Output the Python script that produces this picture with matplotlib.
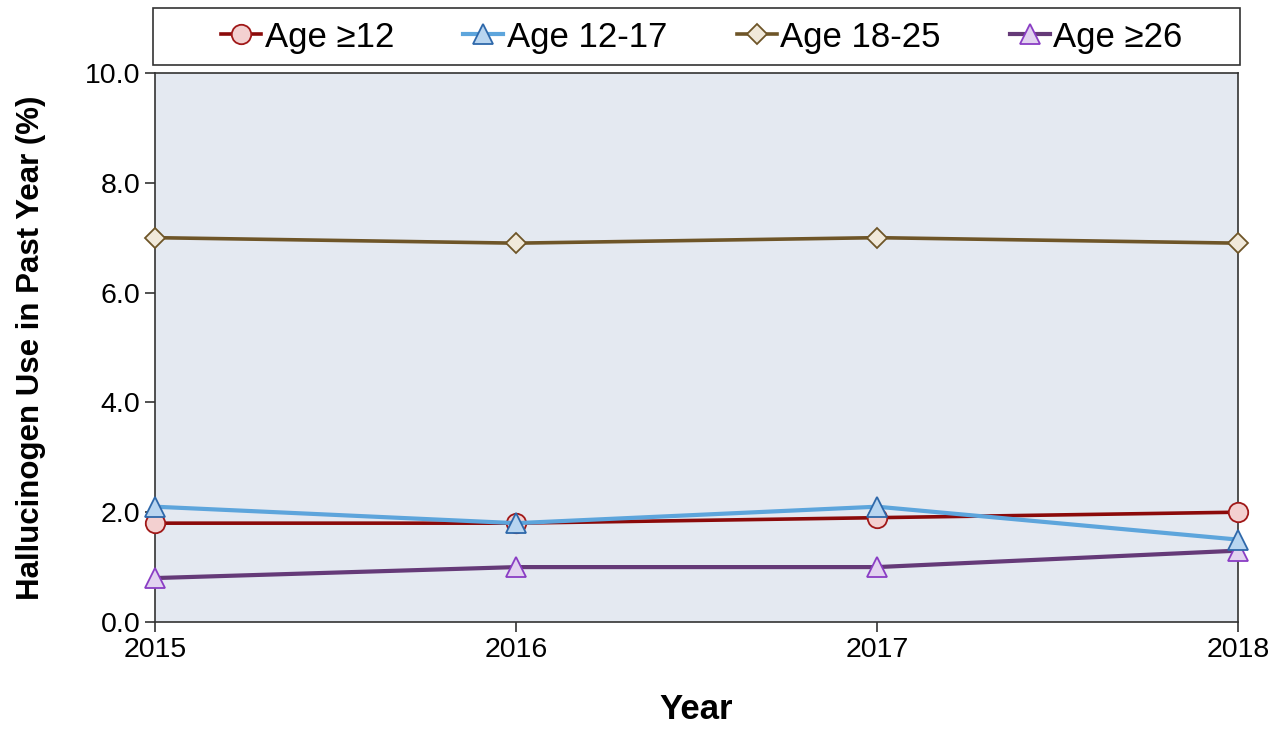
import matplotlib
matplotlib.use("Agg")
import matplotlib.pyplot as plt
from matplotlib.patches import Rectangle

plt.rcParams['font.family'] = ['Liberation Sans', 'DejaVu Sans']

years = [2015, 2016, 2017, 2018]
age_12_plus = [1.8, 1.8, 1.9, 2.0]
age_12_17 = [2.1, 1.8, 2.1, 1.5]
age_18_25 = [7.0, 6.9, 7.0, 6.9]
age_26_plus = [0.8, 1.0, 1.0, 1.3]
labels = ["Age \u226512", "Age 12-17", "Age 18-25", "Age \u226526"]

fig = plt.figure(figsize=(12.7, 7.34), dpi=100)
ax = fig.add_axes([0.122, 0.1526, 0.853, 0.748])
ax.set_facecolor("#E4E9F1")

ax.plot(years, age_12_plus, color="#8B0A0A", lw=2.6, marker="o", ms=14,
        mfc="#F3D0D0", mec="#A01818", mew=1.3, label=labels[0], clip_on=False, zorder=3)
ax.plot(years, age_12_17, color="#5DA5DC", lw=3.0, marker="^", ms=14,
        mfc="#B8D5F0", mec="#2E68AA", mew=1.3, label=labels[1], clip_on=False, zorder=4)
ax.plot(years, age_18_25, color="#6E5528", lw=2.6, marker="D", ms=10,
        mfc="#F1E9DA", mec="#6E5528", mew=1.3, label=labels[2], clip_on=False, zorder=3)
ax.plot(years, age_26_plus, color="#653A78", lw=3.0, marker="^", ms=14,
        mfc="#E2D3F0", mec="#8A3DC4", mew=1.3, label=labels[3], clip_on=False, zorder=3)

ax.set_xlim(2015, 2018)
ax.set_ylim(0, 10)
ax.set_xticks(years)
ax.set_yticks([0, 2, 4, 6, 8, 10])
ax.set_yticklabels(["0.0", "2.0", "4.0", "6.0", "8.0", "10.0"])
ax.tick_params(labelsize=20.5, length=7, width=1.2, color="#333333", direction="out")
for s in ax.spines.values():
    s.set_color("#333333")
    s.set_linewidth(1.2)

ax.set_xlabel("Year", fontsize=25, fontweight="bold", labelpad=22)
ax.set_ylabel("Hallucinogen Use in Past Year (%)", fontsize=22.5, fontweight="bold", labelpad=28)

# legend box spanning the plot width
fig.patches.append(Rectangle((153 / 1270, 1 - 65 / 734), (1240 - 153) / 1270, 57 / 734,
                             transform=fig.transFigure, fill=False,
                             edgecolor="#333333", linewidth=1.2))
leg = fig.legend(loc="center", ncol=4, bbox_to_anchor=(702 / 1270, 1 - 37 / 734),
                 fontsize=25, handlelength=1.15, handletextpad=0.1, columnspacing=2.0,
                 frameon=False, borderaxespad=0)

fig.savefig("out.png", dpi=100)
